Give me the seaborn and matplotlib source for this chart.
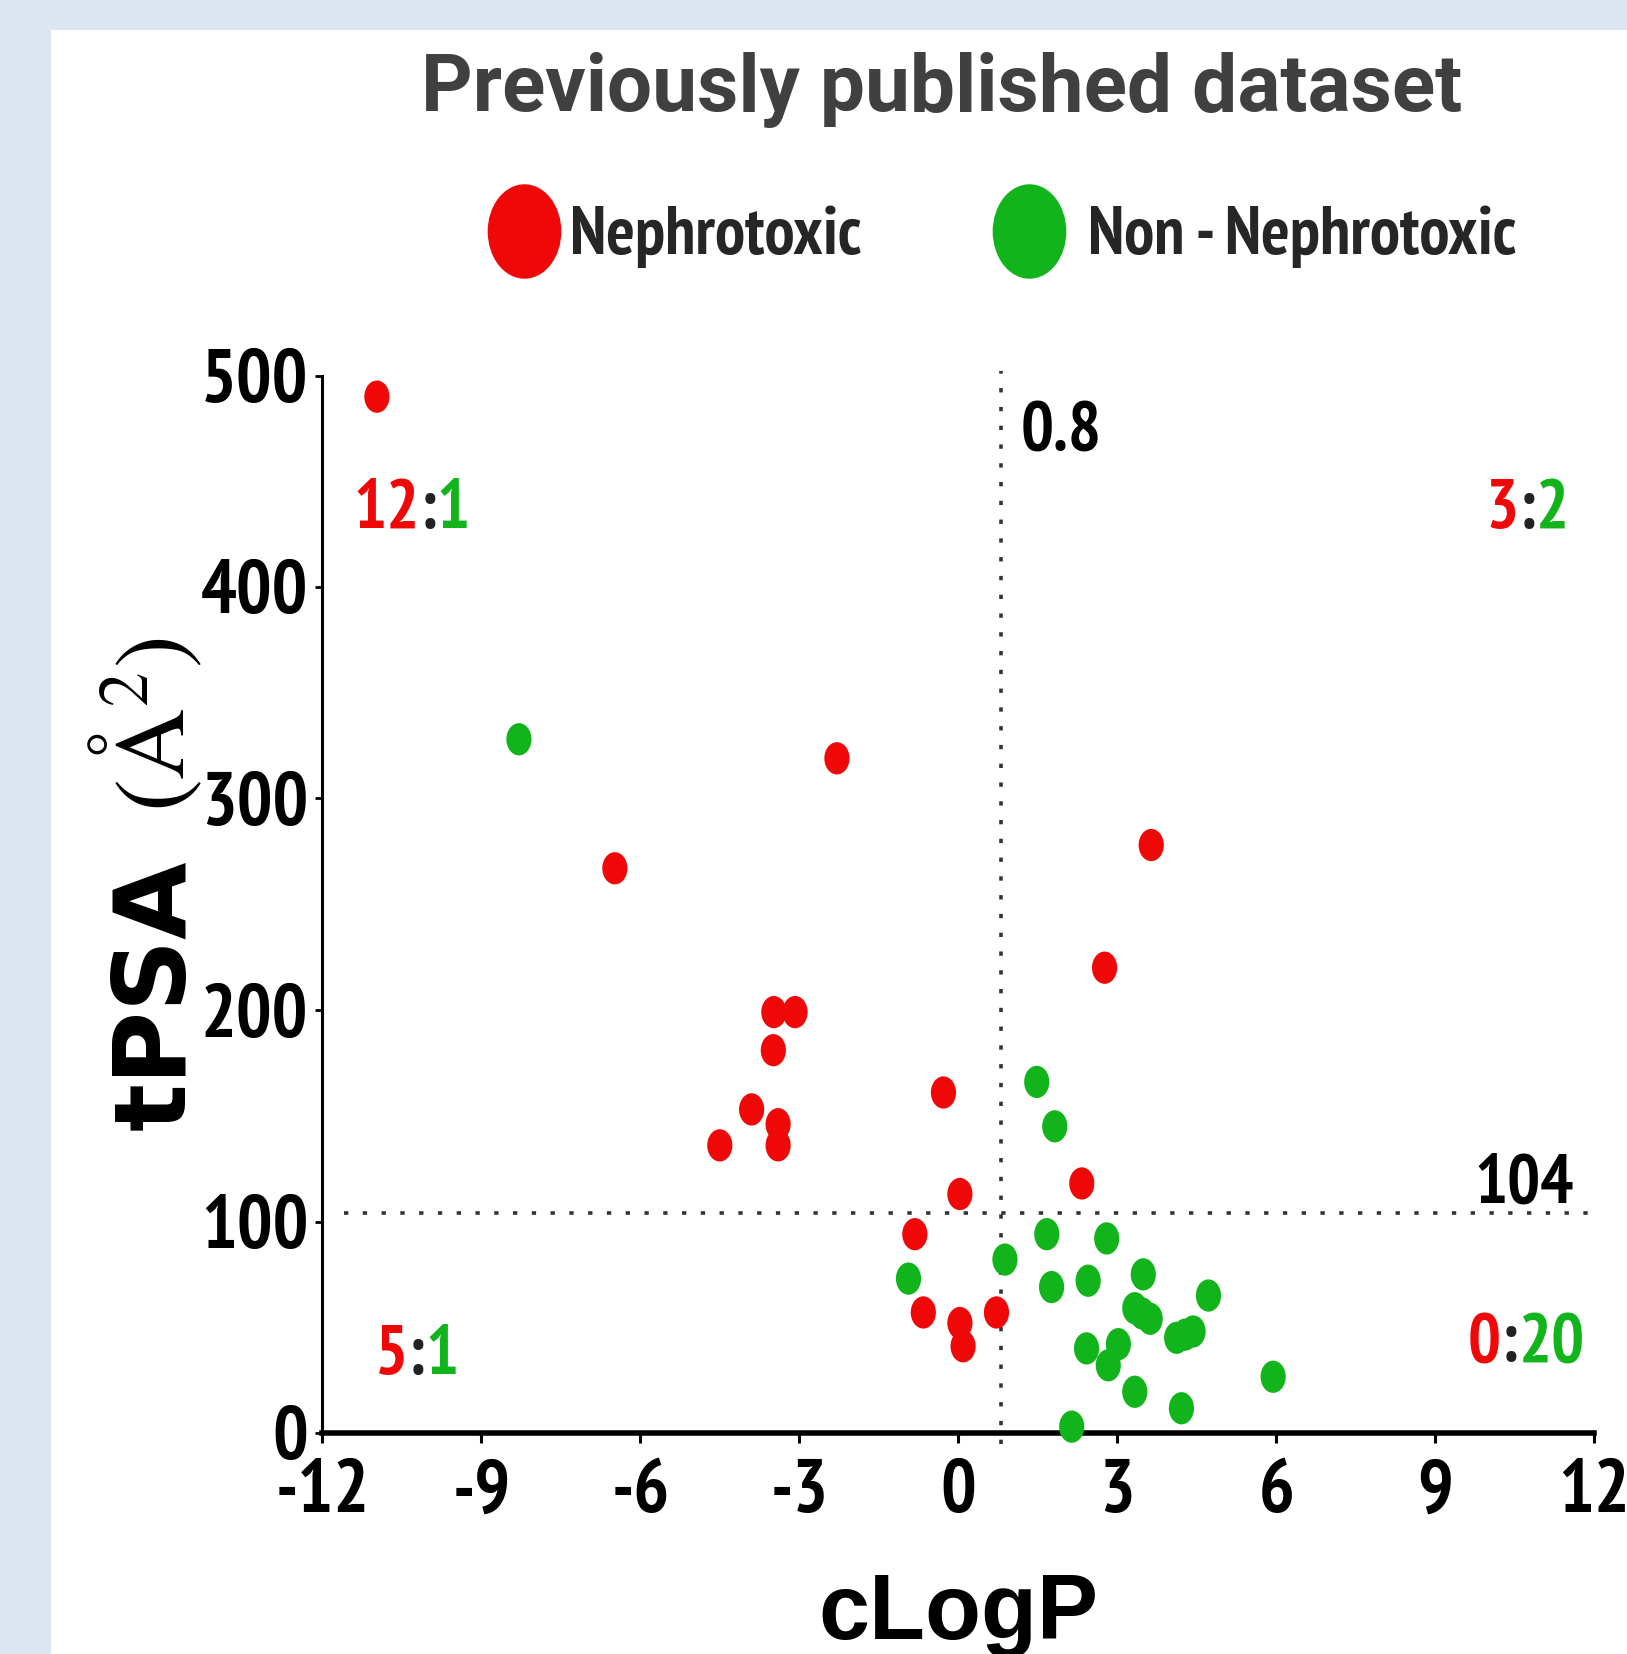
import numpy as np
import pandas as pd
import matplotlib
matplotlib.use("Agg")
import matplotlib.pyplot as plt
import seaborn as sns
from matplotlib.path import Path
from matplotlib.patches import Rectangle
from matplotlib.lines import Line2D

# ---------------- data ----------------
neph_clogp = [-10.97, -2.29, -6.48, 3.64, 2.76, -3.48, -3.08, -3.49, -0.28, -3.90,
              -4.50, -3.40, -3.40, 2.33, 0.03, -0.82, -0.66, 0.03, 0.09, 0.72]
neph_tpsa = [490, 319, 267, 278, 220, 199, 199, 181, 161, 153,
             136, 146, 136, 118, 113, 94, 57, 52, 41, 57]
non_clogp = [-8.29, 1.48, 1.82, -0.94, 0.88, 1.67, 2.80, 1.76, 2.45, 3.49, 4.72, 3.33,
             3.62, 4.12, 4.43, 2.42, 3.02, 2.83, 3.33, 4.21, 5.94, 2.14, 4.28, 3.47]
non_tpsa = [328, 166, 145, 73, 82, 94, 92, 69, 72, 75, 65, 59,
            54, 45, 48, 40, 42, 32, 19.5, 11.7, 26.6, 3, 46.5, 56.5]
groups = ["Nephrotoxic", "Non - Nephrotoxic"]
x_ticks = [-12, -9, -6, -3, 0, 3, 6, 9, 12]
y_ticks = [0, 100, 200, 300, 400, 500]
clogp_cut = 0.8
tpsa_cut = 104
quad_ratios = {"TL": ("12", "1"), "TR": ("3", "2"), "BL": ("5", "1"), "BR": ("0", "20")}

RED = "#f00808"
GREEN = "#12b41c"

df = pd.DataFrame({
    "cLogP": neph_clogp + non_clogp,
    "tPSA": neph_tpsa + non_tpsa,
    "group": [groups[0]] * len(neph_clogp) + [groups[1]] * len(non_clogp),
})

# ---------------- style ----------------
sns.set_style("ticks")
NARROW = ["Liberation Sans Narrow", "PT Sans Narrow", "Archivo Narrow",
          "Roboto Condensed", "Liberation Sans", "DejaVu Sans"]
plt.rcParams["font.family"] = NARROW
plt.rcParams["mathtext.fontset"] = "stix"

W, H = 1627, 1654
fig = plt.figure(figsize=(W / 100, H / 100), dpi=100)
fig.patch.set_facecolor("#dce6f2")
fig.add_artist(Rectangle((51 / W, 0), 1 - 51 / W, 1 - 30 / H, transform=fig.transFigure,
                         facecolor="white", edgecolor="none", zorder=0))

ax = fig.add_axes([322.3 / W, 1 - 1433 / H, 1272 / W, 1057.5 / H])
ax.patch.set_alpha(0)

# elliptical marker (points are slightly taller than wide)
circ = Path.unit_circle()
ell = Path(circ.vertices * np.array([0.78, 1.0]), circ.codes)

sns.scatterplot(data=df, x="cLogP", y="tPSA", hue="group",
                palette={groups[0]: RED, groups[1]: GREEN},
                marker=ell, s=540, linewidth=0, legend=False, ax=ax,
                zorder=4, clip_on=False)

ax.set_xlim(-12, 12)
ax.set_ylim(0, 500)
ax.set_xticks(x_ticks)
ax.set_yticks(y_ticks)
ax.set_xticklabels([str(v) for v in x_ticks])
ax.set_yticklabels([str(v) for v in y_ticks])

for s in ["top", "right"]:
    ax.spines[s].set_visible(False)
ax.spines["bottom"].set_linewidth(4.0)
ax.spines["left"].set_linewidth(2.2)
ax.spines["bottom"].set_color("black")
ax.spines["left"].set_color("black")

ax.tick_params(axis="x", direction="out", length=7, width=2.2, pad=12, colors="black")
ax.tick_params(axis="y", direction="out", length=5, width=2.0, pad=5, colors="black")
for lab in ax.get_xticklabels() + ax.get_yticklabels():
    lab.set_fontfamily(NARROW)
    lab.set_fontweight("bold")
    lab.set_fontsize(54)

# threshold lines
dot_style = dict(color="#333333", lw=2.6, linestyle=(0, (1.2, 4.0)), zorder=2, clip_on=False)
ax.plot([clogp_cut, clogp_cut], [-5, 502], **dot_style)
ax.plot([-11.6, 12], [tpsa_cut, tpsa_cut], **dot_style)

lab_font = dict(family=NARROW, weight="bold", size=50)
ax.text(1.18, 465, f"{clogp_cut}", ha="left", va="baseline", color="black", **lab_font)
ax.text(11.62, 109, f"{tpsa_cut}", ha="right", va="baseline", color="black", **lab_font)


def ratio_left(x, y, a, b):
    t1 = ax.text(x, y, a, ha="left", va="baseline", color=RED, **lab_font)
    t2 = ax.annotate(":", xy=(1, 0), xycoords=t1, ha="left", va="bottom", color="#222222", **lab_font)
    ax.annotate(b, xy=(1, 0), xycoords=t2, ha="left", va="bottom", color=GREEN, **lab_font)


def ratio_right(x, y, a, b):
    t3 = ax.text(x, y, b, ha="right", va="baseline", color=GREEN, **lab_font)
    t2 = ax.annotate(":", xy=(0, 0), xycoords=t3, ha="right", va="bottom", color="#222222", **lab_font)
    ax.annotate(a, xy=(0, 0), xycoords=t2, ha="right", va="bottom", color=RED, **lab_font)


ratio_left(-11.42, 428, *quad_ratios["TL"])
ratio_right(11.52, 428, *quad_ratios["TR"])
ratio_left(-11.01, 28, *quad_ratios["BL"])
ratio_right(11.82, 34, *quad_ratios["BR"])

# axis labels
ax.set_xlabel("")
ax.set_ylabel("")
fig.text(0.5 * 1272 / W + 322.3 / W, 1 - 1572 / H, "cLogP", ha="center", va="top",
         family=["Liberation Sans", "DejaVu Sans"], weight="bold", size=66, color="black")
ylab1 = fig.text(185 / W, 1 - 1130 / H, "tPSA", rotation=90,
                 rotation_mode="anchor", ha="left", va="baseline",
                 family=["DejaVu Sans"], weight="bold", size=72, color="black")
fig.add_artist(matplotlib.text.Annotation(
    r"$(\mathrm{Å}^{2})$", xy=(184 / W, 1.0), xycoords=("figure fraction", ylab1),
    xytext=(0, 34), textcoords="offset points", rotation=90, rotation_mode="anchor",
    ha="left", va="baseline", size=71, color="black"))

# title
fig.text(942 / W, 1 - 110.8 / H, "Previously published dataset", ha="center", va="baseline",
         family=["Roboto", "Liberation Sans", "DejaVu Sans"], weight="bold", size=57.7,
         color="#404040")

# legend (one entry each, anchored where the reference shows them)
leg_prop = dict(family=NARROW, weight="bold", size=48.5)
for c, name, anchor_x, pad in ((RED, groups[0], 485, 0.1), (GREEN, groups[1], 990, 0.3)):
    h = Line2D([], [], linestyle="none", marker=ell, markersize=68, color=c, markeredgewidth=0)
    fig.legend([h], [name], loc="center left", bbox_to_anchor=(anchor_x / W, 1 - 237 / H),
               frameon=False, prop=leg_prop, handlelength=1.16, handletextpad=pad,
               borderpad=0, borderaxespad=0)

fig.savefig("out.png", dpi=100, facecolor=fig.get_facecolor())
